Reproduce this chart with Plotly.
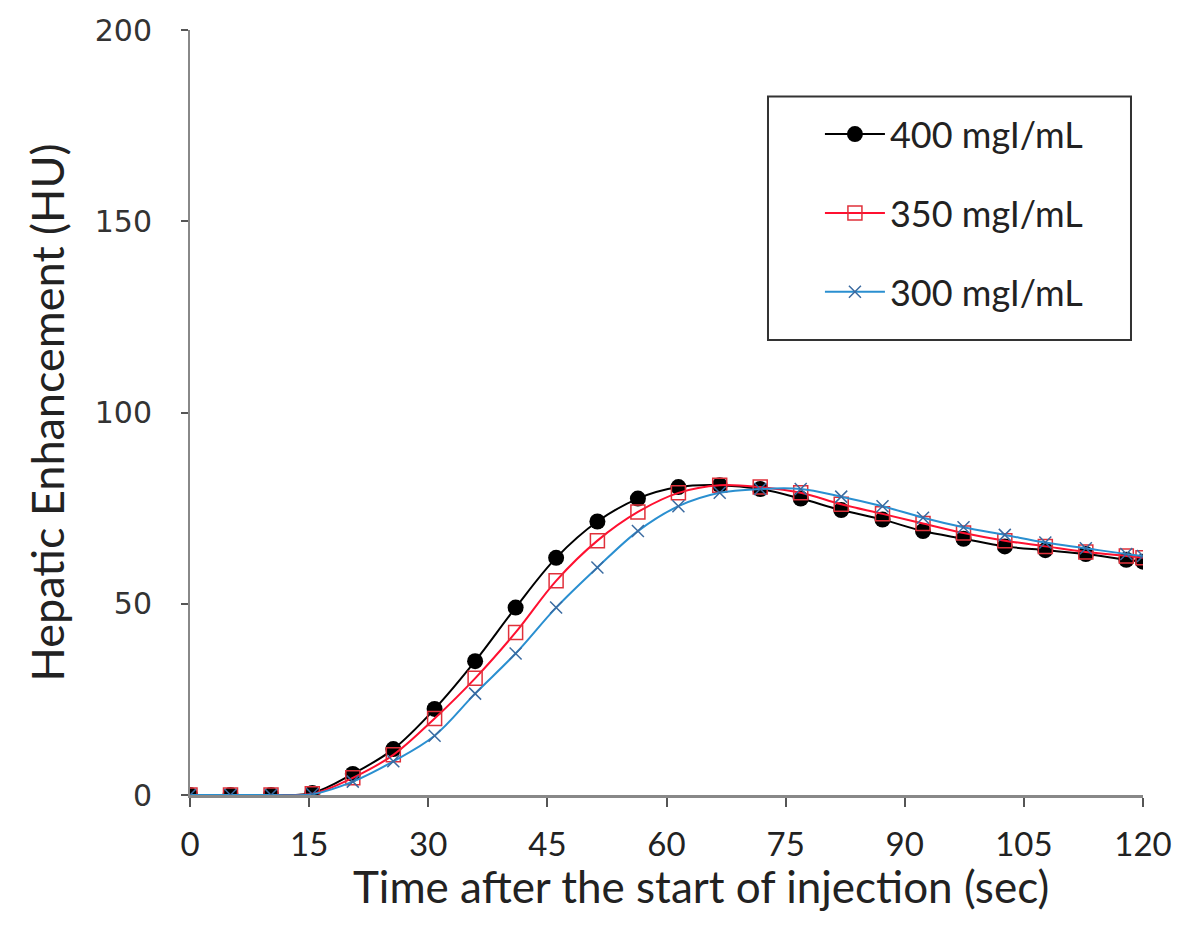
import plotly.graph_objects as go

time_sec = [0, 5.1, 10.2, 15.4, 20.5, 25.6, 30.8, 35.9, 41.0, 46.1, 51.3, 56.4,
            61.5, 66.7, 71.8, 76.9, 82.0, 87.2, 92.3, 97.4, 102.6, 107.7, 112.8, 117.9, 120]
he_400 = [0, 0, 0, 0.5, 5.5, 12, 22.5, 35, 49, 62, 71.5, 77.5,
          80.5, 81, 80, 77.5, 74.5, 72, 69, 67, 65, 64, 63, 61.5, 61]
he_350 = [0, 0, 0, 0.3, 4.5, 10.5, 20, 30.5, 42.5, 56, 66.5, 74,
          79, 81, 80.5, 79, 76, 73.5, 71, 68.5, 66.5, 65, 63.5, 62.5, 62]
he_300 = [0, 0, 0, 0.2, 3.5, 8.8, 15.5, 26.5, 37, 49, 59.5, 69,
          75.5, 79, 80, 80, 78, 75.5, 72.5, 70, 68, 66, 64.5, 63, 62.5]
series_names = ["400 mgI/mL", "350 mgI/mL", "300 mgI/mL"]
x_ticks = [0, 15, 30, 45, 60, 75, 90, 105, 120]
y_ticks = [0, 50, 100, 150, 200]
x_title = "Time after the start of injection (sec)"
y_title = "Hepatic Enhancement (HU)"

fig = go.Figure()
fig.add_trace(go.Scatter(
    x=time_sec, y=he_400, name=series_names[0], legendgroup="a",
    mode="lines+markers", line=dict(color="black", width=2, shape="spline"),
    marker=dict(symbol="circle", size=16, color="black")))
fig.add_trace(go.Scatter(
    x=time_sec, y=he_350, name=series_names[1], legendgroup="b",
    mode="lines+markers", line=dict(color="#ff1030", width=2, shape="spline"),
    marker=dict(symbol="square-open", size=14, color="#e0303a", line=dict(width=1.5))))
fig.add_trace(go.Scatter(
    x=time_sec, y=he_300, name=series_names[2], legendgroup="c",
    mode="lines+markers", line=dict(color="#2a8fd0", width=2, shape="spline"),
    marker=dict(symbol="x-thin-open", size=12, color="#3a6aa0", line=dict(width=1.5))))

# legend frame
fig.add_shape(type="rect", xref="paper", yref="paper",
              x0=0.6065, x1=0.9874, y0=0.5948, y1=0.913,
              line=dict(color="#333333", width=2), fillcolor="white", layer="below")

fig.add_annotation(text=x_title, xref="paper", yref="paper",
                   x=0.536, y=-0.1195, xanchor="center", yanchor="middle",
                   showarrow=False,
                   font=dict(family="Lato, sans-serif", size=44, color="#222222"))

fig.update_layout(
    width=1201, height=937,
    margin=dict(l=190, r=58, t=25, b=142),
    paper_bgcolor="white", plot_bgcolor="white",
    showlegend=True,
    legend=dict(
        x=0.661, y=0.903, xanchor="left", yanchor="top",
        bgcolor="rgba(0,0,0,0)", borderwidth=0,
        font=dict(family="Lato, Open Sans, sans-serif", size=36, color="#222222"),
        tracegroupgap=29, itemwidth=60,
    ),
    font=dict(family="Lato, Open Sans, sans-serif", color="#222222"),
)
fig.update_xaxes(
    range=[0, 120], tickvals=x_ticks, ticktext=[str(v) for v in x_ticks],
    showgrid=False, zeroline=False, showline=True, linecolor="#888888", linewidth=2.5,
    ticks="outside", ticklen=9, tickcolor="#555555", tickwidth=1.5,
    tickfont=dict(family="Lato, sans-serif", size=33, color="#222222"),
    ticklabelstandoff=10,
)
fig.update_yaxes(
    range=[0, 200], tickvals=y_ticks,
    showgrid=False, zeroline=False, showline=True, linecolor="#888888", linewidth=2,
    ticks="outside", ticklen=7, tickcolor="#555555", tickwidth=1.5,
    tickfont=dict(family="DejaVu Sans, Verdana, sans-serif", size=30, color="#333333"),
    ticklabelstandoff=23,
    title=dict(text=y_title,
               font=dict(family="Lato, sans-serif", size=45, color="#222222"), standoff=16),
)

fig.write_html("out.html")
